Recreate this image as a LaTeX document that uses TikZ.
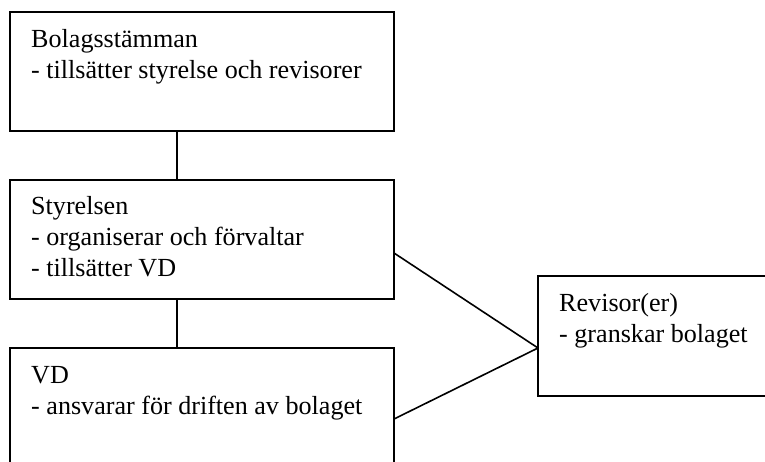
\documentclass[tikz,border=0pt]{standalone}
\usepackage{fontspec}
\setmainfont{Liberation Serif}
\begin{document}
\begin{tikzpicture}[x=1pt,y=-1pt,
  orgbox/.style={draw,line width=1.6pt,rectangle,inner sep=0pt,outer sep=0pt,anchor=north west,minimum height=119pt},
  boxtext/.style={anchor=base west,inner sep=0pt,align=left,font=\fontsize{26.1}{31}\selectfont},
  link/.style={line width=1.6pt}]
\useasboundingbox (0,0) rectangle (765,461);
\clip (0,0) rectangle (765,461);
\node[orgbox,minimum width=384pt] (b1) at (10,12) {};
\node[orgbox,minimum width=384pt] (b2) at (10,180) {};
\node[orgbox,minimum width=384pt] (b3) at (10,348) {};
\node[orgbox,minimum width=240pt,minimum height=120pt] (b4) at (538,276) {};
\node[boxtext] (t1) at ([xshift=21pt,yshift=-66pt]b1.north west) {Bolagsstämman\\- tillsätter styrelse och revisorer};
\node[boxtext] (t2) at ([xshift=21pt,yshift=-96pt]b2.north west) {Styrelsen\\- organiserar och förvaltar\\- tillsätter VD};
\node[boxtext] (t3) at ([xshift=21pt,yshift=-66pt]b3.north west) {VD\\- ansvarar för driften av bolaget};
\node[boxtext] (t4) at ([xshift=21pt,yshift=-66pt]b4.north west) {Revisor(er)\\- granskar bolaget};
\draw[link] ([xshift=167pt]b1.south west) -- ([xshift=167pt]b2.north west);
\draw[link] ([xshift=167pt]b2.south west) -- ([xshift=167pt]b3.north west);
\draw[link] ([yshift=-73pt]b2.north east) -- ([yshift=-72pt]b4.north west);
\draw[link] ([yshift=-71pt]b3.north east) -- ([yshift=-72pt]b4.north west);
\end{tikzpicture}
\end{document}
